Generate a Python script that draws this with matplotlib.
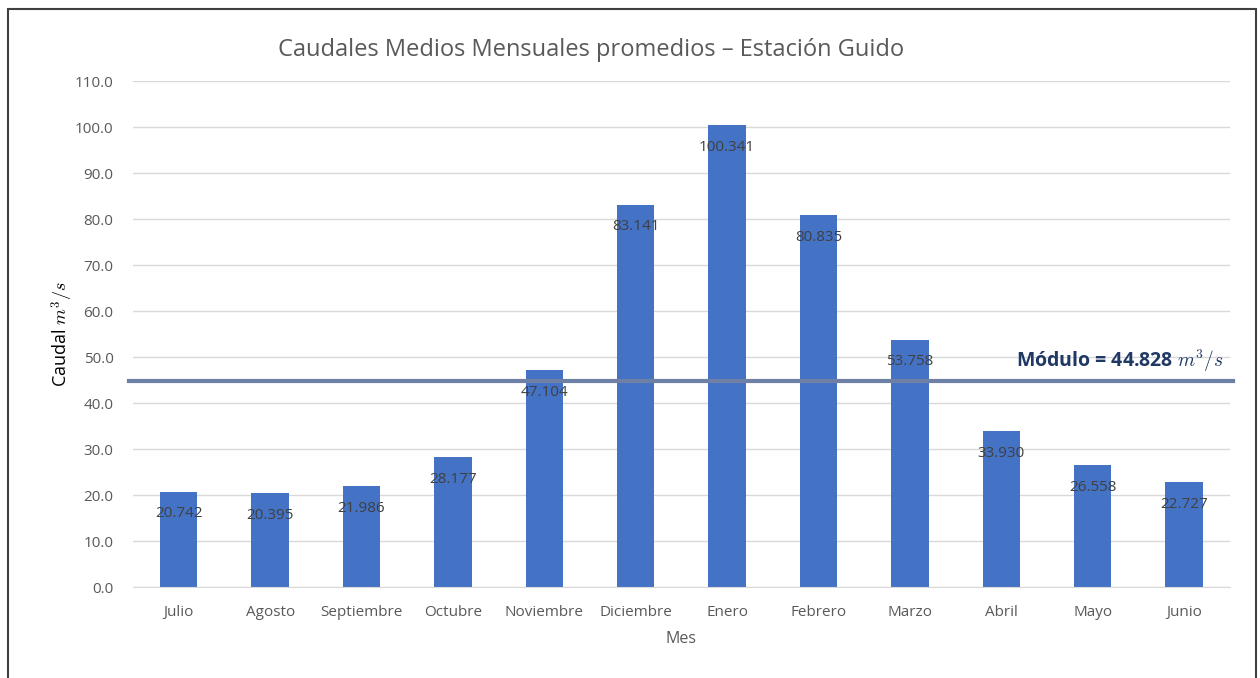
import numpy as np
import matplotlib.pyplot as plt
from matplotlib.patches import Rectangle

# ====== datos ======
meses = ["Julio", "Agosto", "Septiembre", "Octubre", "Noviembre", "Diciembre",
         "Enero", "Febrero", "Marzo", "Abril", "Mayo", "Junio"]
caudal = [20.742, 20.395, 21.986, 28.177, 47.104, 83.141,
          100.341, 80.835, 53.758, 33.930, 26.558, 22.727]
modulo = 44.828

plt.rcParams['font.family'] = ['Open Sans', 'DejaVu Sans']
plt.rcParams['mathtext.fontset'] = 'cm'

fig = plt.figure(figsize=(12.6, 6.78), dpi=100)
ax = fig.add_axes([0.1056, 0.1342, 0.8704, 0.7463])

x = np.arange(len(meses))
ax.bar(x, caudal, width=0.41, color="#4472C4", zorder=2)

for xi, v in zip(x, caudal):
    ax.text(xi, v - 3.2, f"{v:.3f}", ha="center", va="top", fontsize=11, color="#404040", zorder=3)

# linea del modulo
ax.plot([-0.54, 11.54], [modulo, modulo], color="#6E80A6", lw=3, zorder=4, clip_on=False)
ax.text(11.43, modulo + 1.5, r"Módulo = 44.828 $m^3/s$", ha="right", va="bottom",
        fontsize=14, fontweight="bold", color="#1F3864")

ax.set_xlim(-0.5, 11.5)
ax.set_ylim(0, 110)
ax.set_yticks(np.arange(0, 111, 10))
ax.set_yticklabels([f"{t:.1f}" for t in np.arange(0, 111, 10)])
ax.set_xticks(x)
ax.set_xticklabels(meses)
ax.tick_params(axis="both", length=0, labelsize=11, labelcolor="#595959")
ax.tick_params(axis="y", pad=14)
ax.tick_params(axis="x", pad=13)
ax.grid(axis="y", color="#D9D9D9", lw=1, zorder=0)
for s in ["top", "right", "left"]:
    ax.spines[s].set_visible(False)
ax.spines["bottom"].set_color("#D9D9D9")

ax.set_xlabel("Mes", fontsize=11.5, color="#595959", labelpad=8)
ax.set_ylabel(r"Caudal $m^3/s$", fontsize=13, color="black", labelpad=0)

fig.text(0.469, 0.926, "Caudales Medios Mensuales promedios – Estación Guido",
         ha="center", va="center", fontsize=17, color="#595959")

# marco exterior
fig.patches.append(Rectangle((8 / 1260, -0.05), (1256 - 8) / 1260, 1.05 - 9 / 678,
                             transform=fig.transFigure, fill=False, edgecolor="#404040", lw=1.5))

fig.savefig("out.png", dpi=100)
